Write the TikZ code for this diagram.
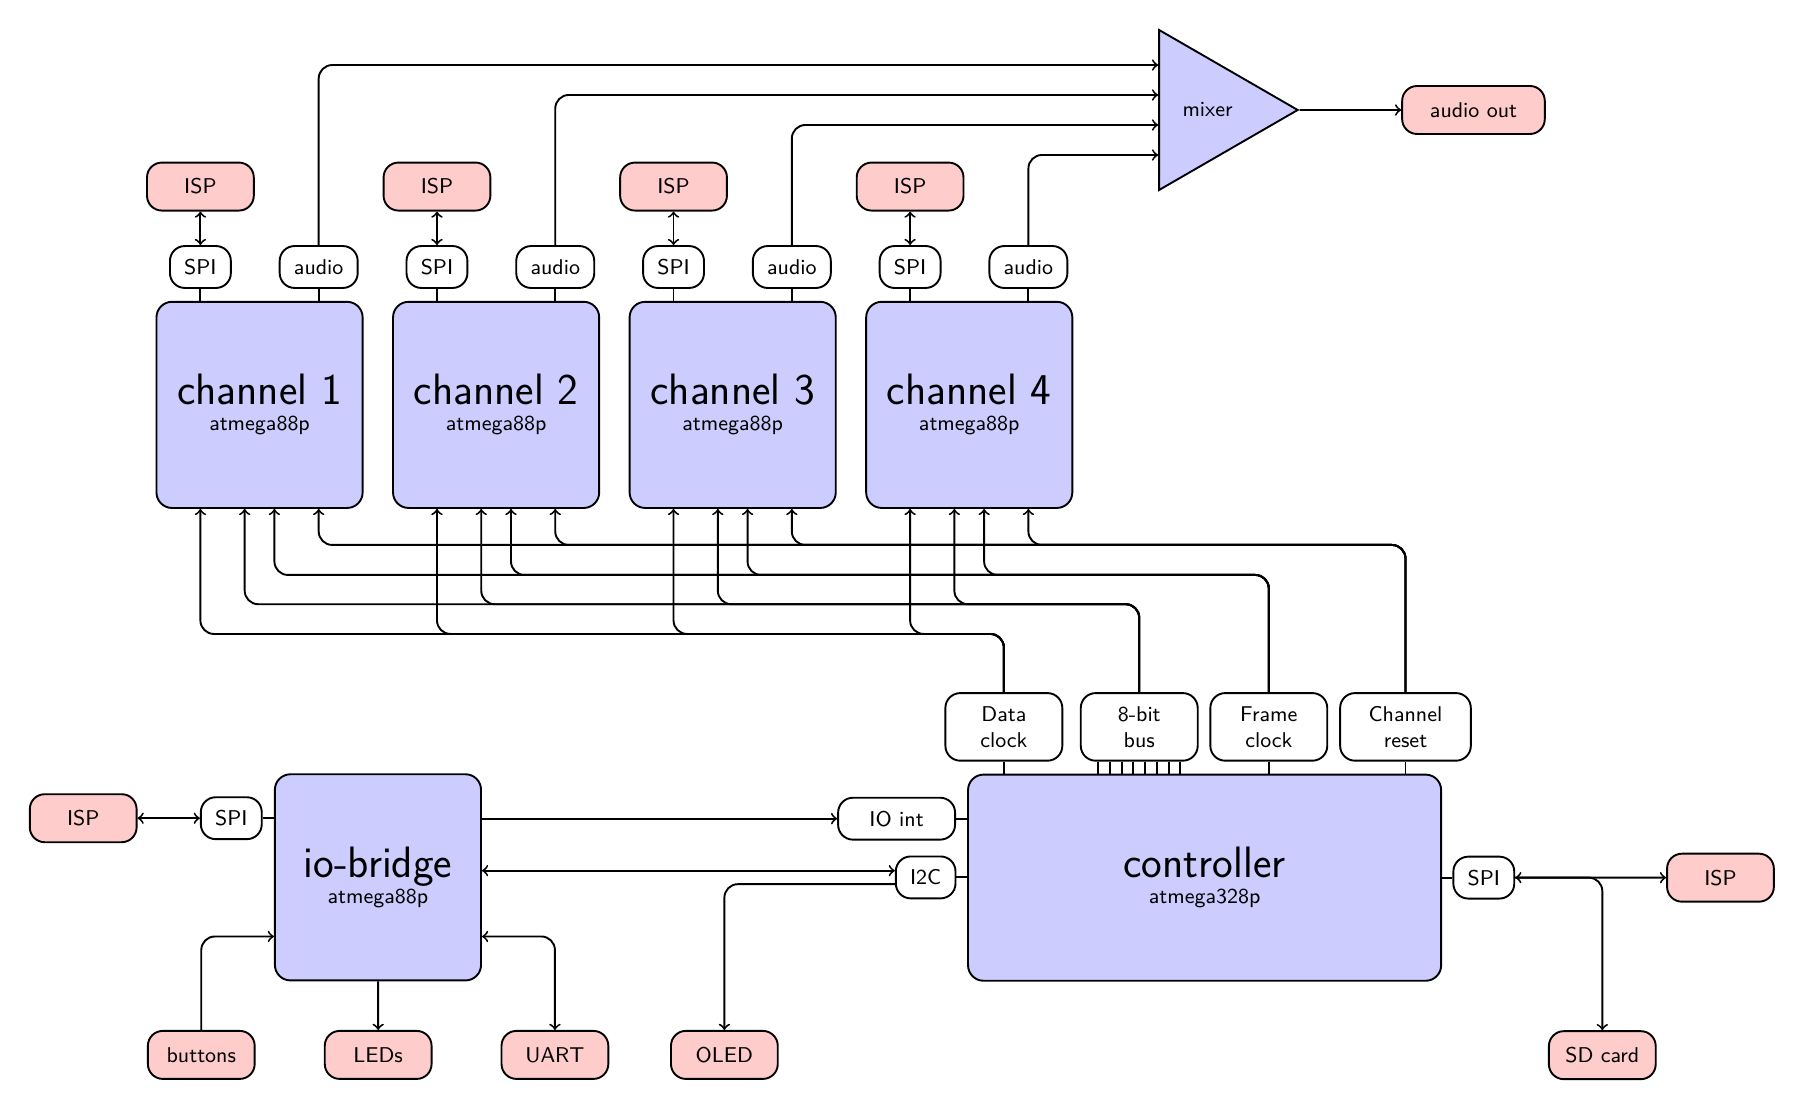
\documentclass[tikz,border=0pt]{standalone}
\usepackage{tikz}
\definecolor{bl}{RGB}{204, 204, 255}
\definecolor{pk}{RGB}{255, 204, 204}
\usetikzlibrary{shapes.geometric}
\newcommand{\chipname}{\fontsize{18.5}{22}\selectfont}

\begin{document}
\begin{tikzpicture}
			[thick, font=\sffamily\small,
			chip/.style={draw, fill=bl, rounded corners=2.3mm, align=center, minimum width=3.05cm, minimum height=3.05cm},
			port/.style={draw, fill=white, rounded corners=2.2mm, inner xsep=6pt, minimum height=0.62cm},
			ext/.style={draw, fill=pk, rounded corners=2.2mm, inner xsep=6pt, minimum width=1.58cm, minimum height=0.71cm},
			sig/.style={draw, fill=white, rounded corners=2.2mm, align=center, inner xsep=12pt, minimum width=1.73cm, minimum height=1cm}]
			\useasboundingbox (0, 0) rectangle (26.69, -16.41);
			% channels
			\node (c1) [chip] at (3.84, -5.99) {{\chipname channel 1}\\atmega88p};
			\node (c2) [chip] at (7.34, -5.99) {{\chipname channel 2}\\atmega88p};
			\node (c3) [chip] at (10.84, -5.99) {{\chipname channel 3}\\atmega88p};
			\node (c4) [chip] at (14.34, -5.99) {{\chipname channel 4}\\atmega88p};
			\node (spi1) [port] at (2.965, -3.95) {SPI};
			\node (spi2) [port] at (6.465, -3.95) {SPI};
			\node (spi3) [port] at (9.965, -3.95) {SPI};
			\node (spi4) [port] at (13.465, -3.95) {SPI};
			\node (aud1) [port] at (4.715, -3.95) {audio};
			\node (aud2) [port] at (8.215, -3.95) {audio};
			\node (aud3) [port] at (11.715, -3.95) {audio};
			\node (aud4) [port] at (15.215, -3.95) {audio};
			\node (isp1) [ext] at (2.965, -2.76) {ISP};
			\node (isp2) [ext] at (6.465, -2.76) {ISP};
			\node (isp3) [ext] at (9.965, -2.76) {ISP};
			\node (isp4) [ext] at (13.465, -2.76) {ISP};
			% mixer
			\node (mix) [isosceles triangle, isosceles triangle apex angle=60, draw, fill=bl, minimum height=2.05cm, anchor=west] at (17.135, -1.627) {mixer};
			\node (out) [ext, minimum width=2.11cm] at (21.80, -1.627) {audio out};
			% controller
			\node (ctrl) [chip, minimum width=7cm] at (17.822, -12.985) {{\chipname controller}\\atmega328p};
			\node (dclk) [sig] at (14.852, -10.754) {Data\\clock};
			\node (bus) [sig] at (16.855, -10.754) {8-bit\\bus};
			\node (fclk) [sig] at (18.772, -10.754) {Frame\\clock};
			\node (rst) [sig] at (20.794, -10.754) {Channel\\reset};
			\node (ioint) [port, minimum width=1.73cm] at (13.265, -12.112) {IO int};
			\node (i2c) [port] at (13.695, -12.981) {I2C};
			\node (cspi) [port] at (21.953, -12.984) {SPI};
			\node (cisp) [ext] at (25.454, -12.985) {ISP};
			\node (sd) [ext] at (23.706, -15.611) {SD card};
			% io-bridge
			\node (io) [chip] at (5.592, -12.98) {{\chipname io-bridge}\\atmega88p};
			\node (iospi) [port] at (3.422, -12.105) {SPI};
			\node (ioisp) [ext] at (1.231, -12.105) {ISP};
			\node (btn) [ext] at (2.978, -15.607) {buttons};
			\node (leds) [ext] at (5.595, -15.607) {LEDs};
			\node (uart) [ext] at (8.21, -15.607) {UART};
			\node (oled) [ext] at (10.717, -15.607) {OLED};
			% bus levels
			\coordinate (rlev) at (0, -8.062);
			\coordinate (flev) at (0, -8.506);
			\coordinate (blev) at (0, -8.939);
			\coordinate (dlev) at (0, -9.379);
			% channel ports
			\draw [<->] (isp1) to (spi1);
			\draw [<->] (isp2) to (spi2);
			\draw [<->] (isp3) to (spi3);
			\draw [<->] (isp4) to (spi4);
			\draw (spi1) to (spi1 |- c1.north);
			\draw (spi2) to (spi2 |- c2.north);
			\draw (spi3) to (spi3 |- c3.north);
			\draw (spi4) to (spi4 |- c4.north);
			\draw (aud1) to (aud1 |- c1.north);
			\draw (aud2) to (aud2 |- c2.north);
			\draw (aud3) to (aud3 |- c3.north);
			\draw (aud4) to (aud4 |- c4.north);
			\draw [->, rounded corners=2mm] (aud1) |- ([yshift=6.65mm]mix.west);
			\draw [->, rounded corners=2mm] (aud2) |- ([yshift=2.22mm]mix.west);
			\draw [->, rounded corners=2mm] (aud3) |- ([yshift=-2.22mm]mix.west);
			\draw [->, rounded corners=2mm] (aud4) |- ([yshift=-6.66mm]mix.west);
			\draw [->] (mix.apex) to (out);
			% data clock
			\draw [->, rounded corners=2mm] (dclk) |- ([xshift=-8.75mm]c1.south |- dlev) to ([xshift=-8.75mm]c1.south);
			\draw [->, rounded corners=2mm] (dclk) |- ([xshift=-8.75mm]c2.south |- dlev) to ([xshift=-8.75mm]c2.south);
			\draw [->, rounded corners=2mm] (dclk) |- ([xshift=-8.75mm]c3.south |- dlev) to ([xshift=-8.75mm]c3.south);
			\draw [->, rounded corners=2mm] (dclk) |- ([xshift=-8.75mm]c4.south |- dlev) to ([xshift=-8.75mm]c4.south);
			% 8-bit bus
			\draw [->, rounded corners=2mm] (bus) |- ([xshift=-2.2mm]c1.south |- blev) to ([xshift=-2.2mm]c1.south);
			\draw [->, rounded corners=2mm] (bus) |- ([xshift=-2.2mm]c2.south |- blev) to ([xshift=-2.2mm]c2.south);
			\draw [->, rounded corners=2mm] (bus) |- ([xshift=-2.2mm]c3.south |- blev) to ([xshift=-2.2mm]c3.south);
			\draw [->, rounded corners=2mm] (bus) |- ([xshift=-2.2mm]c4.south |- blev) to ([xshift=-2.2mm]c4.south);
			% frame clock
			\draw [->, rounded corners=2mm] (fclk) |- ([xshift=2.2mm]c1.south |- flev) to ([xshift=2.2mm]c1.south);
			\draw [->, rounded corners=2mm] (fclk) |- ([xshift=2.2mm]c2.south |- flev) to ([xshift=2.2mm]c2.south);
			\draw [->, rounded corners=2mm] (fclk) |- ([xshift=2.2mm]c3.south |- flev) to ([xshift=2.2mm]c3.south);
			\draw [->, rounded corners=2mm] (fclk) |- ([xshift=2.2mm]c4.south |- flev) to ([xshift=2.2mm]c4.south);
			% channel reset
			\draw [->, rounded corners=2mm] (rst) |- ([xshift=8.75mm]c1.south |- rlev) to ([xshift=8.75mm]c1.south);
			\draw [->, rounded corners=2mm] (rst) |- ([xshift=8.75mm]c2.south |- rlev) to ([xshift=8.75mm]c2.south);
			\draw [->, rounded corners=2mm] (rst) |- ([xshift=8.75mm]c3.south |- rlev) to ([xshift=8.75mm]c3.south);
			\draw [->, rounded corners=2mm] (rst) |- ([xshift=8.75mm]c4.south |- rlev) to ([xshift=8.75mm]c4.south);
			% controller top
			\draw (dclk) to (dclk |- ctrl.north);
			\draw (fclk) to (fclk |- ctrl.north);
			\draw (rst) to (rst |- ctrl.north);
			\draw ([xshift=-6.09mm]bus.south) to ([xshift=-6.09mm]bus.south |- ctrl.north);
			\draw ([xshift=-4.35mm]bus.south) to ([xshift=-4.35mm]bus.south |- ctrl.north);
			\draw ([xshift=-2.61mm]bus.south) to ([xshift=-2.61mm]bus.south |- ctrl.north);
			\draw ([xshift=-0.87mm]bus.south) to ([xshift=-0.87mm]bus.south |- ctrl.north);
			\draw ([xshift=0.87mm]bus.south) to ([xshift=0.87mm]bus.south |- ctrl.north);
			\draw ([xshift=2.61mm]bus.south) to ([xshift=2.61mm]bus.south |- ctrl.north);
			\draw ([xshift=4.35mm]bus.south) to ([xshift=4.35mm]bus.south |- ctrl.north);
			\draw ([xshift=6.09mm]bus.south) to ([xshift=6.09mm]bus.south |- ctrl.north);
			% controller sides
			\draw (ioint) to (ioint -| ctrl.west);
			\draw (i2c) to (i2c -| ctrl.west);
			\draw (cspi) to (cspi -| ctrl.east);
			\draw [<->] (cspi) to (cisp);
			\draw [->, rounded corners=2mm] (cspi) -| (sd);
			% io-bridge
			\draw [<->] (ioisp) to (iospi);
			\draw (iospi) to (iospi -| io.west);
			\draw [->] (ioint -| io.east) to (ioint);
			\draw [<->] ([yshift=1mm]i2c.west -| io.east) to ([yshift=1mm]i2c.west);
			\draw [->, rounded corners=2mm] ([yshift=-1mm]i2c.west) -| (oled);
			\draw [->, rounded corners=2mm] (btn) |- ([yshift=-8.75mm]io.west);
			\draw [->] (io) to (leds);
			\draw [<->, rounded corners=2mm] ([yshift=-8.75mm]io.east) -| (uart);
		\end{tikzpicture}
\end{document}
